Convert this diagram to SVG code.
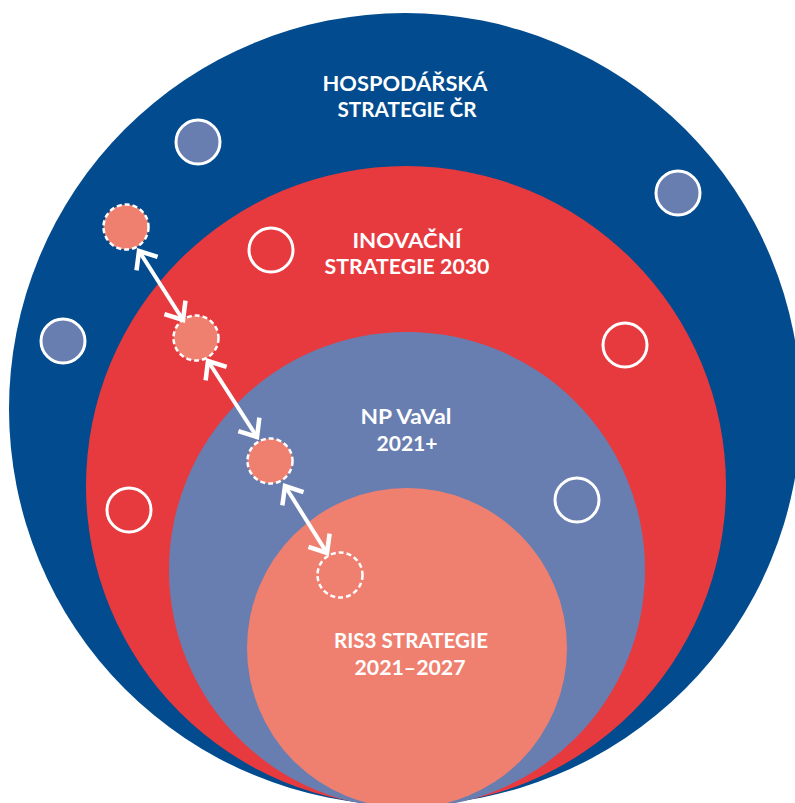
<svg xmlns="http://www.w3.org/2000/svg" width="795" height="803" viewBox="0 0 795 803">
  <defs>
    <style>
      .lbl { font-family: "Lato", "Open Sans", "Liberation Sans", sans-serif; font-weight: 700; font-size: 21px; fill: #ffffff; text-anchor: middle; }
      .dot { stroke: #ffffff; stroke-width: 3; }
      .dash { fill: #EF8070; stroke: #ffffff; stroke-width: 2.5; stroke-dasharray: 5 3; }
      .link { stroke: #ffffff; stroke-width: 4; fill: none; marker-start: url(#head); marker-end: url(#head); }
    </style>
    <marker id="head" markerUnits="userSpaceOnUse" markerWidth="30" markerHeight="36" viewBox="-24 -18 30 36" refX="0" refY="0" orient="auto-start-reverse">
      <path d="M -15,-12.5 L 0,0 L -15,12.5" fill="none" stroke="#ffffff" stroke-width="4.5" stroke-linejoin="miter" stroke-miterlimit="4"/>
    </marker>
  </defs>

  <rect width="795" height="803" fill="#ffffff"/>

  <g id="hospodarska">
    <circle cx="405" cy="409" r="396" fill="#014B8E"/>
    <text class="lbl" x="405" y="91" textLength="165" lengthAdjust="spacingAndGlyphs">HOSPODÁŘSKÁ</text>
    <text class="lbl" x="407" y="117" textLength="139" lengthAdjust="spacingAndGlyphs">STRATEGIE ČR</text>
  </g>

  <g id="inovacni">
    <circle cx="406" cy="486" r="320" fill="#E73A3F"/>
    <text class="lbl" x="407" y="248" textLength="109" lengthAdjust="spacingAndGlyphs">INOVAČNÍ</text>
    <text class="lbl" x="407" y="274" textLength="165" lengthAdjust="spacingAndGlyphs">STRATEGIE 2030</text>
  </g>

  <g id="npvaval">
    <circle cx="407" cy="570" r="238" fill="#687EB1"/>
    <text class="lbl" x="406" y="424" textLength="91" lengthAdjust="spacingAndGlyphs">NP VaVal</text>
    <text class="lbl" x="407" y="451" textLength="61" lengthAdjust="spacingAndGlyphs">2021+</text>
  </g>

  <g id="ris3">
    <circle cx="407" cy="648" r="160" fill="#EF8070"/>
    <text class="lbl" x="411" y="648" textLength="154" lengthAdjust="spacingAndGlyphs">RIS3 STRATEGIE</text>
    <text class="lbl" x="410" y="675" textLength="111" lengthAdjust="spacingAndGlyphs">2021–2027</text>
  </g>

  <g id="small-circles">
    <circle class="dot" cx="198" cy="142" r="22" fill="#687EB1"/>
    <circle class="dot" cx="678" cy="193" r="22" fill="#687EB1"/>
    <circle class="dot" cx="63" cy="341" r="22" fill="#687EB1"/>
    <circle class="dot" cx="271" cy="250" r="22" fill="none"/>
    <circle class="dot" cx="625" cy="345" r="22" fill="none"/>
    <circle class="dot" cx="129" cy="510" r="22" fill="none"/>
    <circle class="dot" cx="577" cy="500" r="22" fill="none"/>
  </g>

  <g id="moving-circles">
    <circle class="dash" cx="126" cy="227" r="22.5"/>
    <circle class="dash" cx="196" cy="338" r="22.5"/>
    <circle class="dash" cx="270" cy="461" r="22.5"/>
    <circle class="dash" cx="340" cy="575" r="22.5" style="fill:none"/>
  </g>

  <g id="connectors">
    <line class="link" x1="139" y1="251" x2="183" y2="320"/>
    <line class="link" x1="208" y1="361" x2="257" y2="437"/>
    <line class="link" x1="285" y1="486" x2="327" y2="553"/>
  </g>
</svg>
